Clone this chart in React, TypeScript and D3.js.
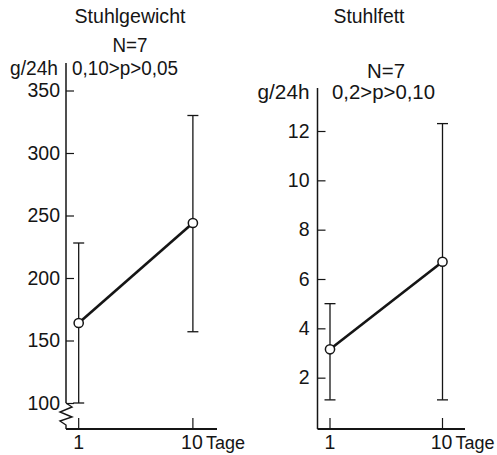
import React, { useEffect, useRef } from "react";
import * as d3 from "d3";

// days of measurement
const days = [1, 10];

// Stuhlgewicht (g/24h): mean and range
const weightMean = [164, 244];
const weightLow = [100, 157];
const weightHigh = [228, 330];
const weightTicks = [100, 150, 200, 250, 300, 350];

// Stuhlfett (g/24h): mean and range
const fatMean = [3.15, 6.7];
const fatLow = [1.1, 1.1];
const fatHigh = [5.0, 12.3];
const fatTicks = [2, 4, 6, 8, 10, 12];

const FONT = "'Liberation Sans', Arial, sans-serif";
const FS = 19.5;
const INK = "#151515";

const App = () => {
  const svgRef = useRef<SVGSVGElement>(null);

  useEffect(() => {
    const svg = d3.select(svgRef.current);
    svg.selectAll("*").remove();
    svg.style("font-family", FONT).style("fill", INK);

    // text squeezed/stretched to the width seen in the scan
    const label = (g: any, x: number, y: number, txt: string, len: number, anchor = "start") =>
      g.append("text").attr("x", x).attr("y", y)
        .attr("text-anchor", anchor).attr("font-size", FS)
        .attr("textLength", len).attr("lengthAdjust", "spacingAndGlyphs")
        .text(txt);

    const drawPanel = (p: any) => {
      const g = svg.append("g");
      const x = d3.scaleLinear().domain(p.xDomain).range(p.xRange);
      const y = d3.scaleLinear().domain(p.yDomain).range(p.yRange);
      const x0 = p.xRange[0];

      // y axis line
      g.append("line")
        .attr("x1", x0).attr("x2", x0)
        .attr("y1", p.axisTop).attr("y2", p.broken ? y(p.yDomain[0]) : p.axisBottom)
        .attr("stroke", INK).attr("stroke-width", 1.5);

      if (p.broken) {
        // axis break zigzag
        const yb = y(p.yDomain[0]);
        const zig = d3.line()([
          [x0, yb], [x0 + 6, yb + 4], [x0 - 6, yb + 9], [x0 + 6, yb + 14],
          [x0 - 6, yb + 18], [x0, yb + 22], [x0, p.axisBottom],
        ] as [number, number][]);
        g.append("path").attr("d", zig).attr("fill", "none")
          .attr("stroke", INK).attr("stroke-width", 1.4);
      }

      // x axis line
      g.append("line")
        .attr("x1", x0).attr("x2", p.xRange[1])
        .attr("y1", p.axisBottom).attr("y2", p.axisBottom)
        .attr("stroke", INK).attr("stroke-width", 1.8);

      // y ticks (pointing inward)
      const yAxis = d3.axisLeft(y).tickValues(p.yTicks).tickSize(-8).tickPadding(p.tickPad);
      const ya = g.append("g").attr("transform", `translate(${x0},0)`).call(yAxis);
      ya.select(".domain").remove();
      ya.selectAll(".tick line").attr("stroke", INK).attr("stroke-width", 1.2);
      ya.selectAll(".tick text")
        .attr("font-size", FS).attr("font-family", FONT).attr("fill", INK);

      // x ticks pointing up, with day labels
      g.selectAll(".xt").data(days).enter().append("line")
        .attr("x1", (d) => x(d)).attr("x2", (d) => x(d))
        .attr("y1", p.axisBottom - 11).attr("y2", p.axisBottom)
        .attr("stroke", INK).attr("stroke-width", 1.2);
      g.selectAll(".xl").data(days).enter().append("text")
        .attr("x", (d) => x(d) - (d > 9 ? 1 : 0)).attr("y", p.axisBottom + 20)
        .attr("text-anchor", "middle").attr("font-size", FS)
        .text((d) => String(d));
      g.append("text").attr("x", x(10) + 13).attr("y", p.axisBottom + 20)
        .attr("font-size", 18).text("Tage");

      // error bars
      days.forEach((d, i) => {
        const cx = x(d);
        g.append("line").attr("x1", cx).attr("x2", cx)
          .attr("y1", y(p.low[i])).attr("y2", y(p.high[i]))
          .attr("stroke", INK).attr("stroke-width", 1.3);
        [p.low[i], p.high[i]].forEach((v) => {
          g.append("line").attr("x1", cx - 5.5).attr("x2", cx + 5.5)
            .attr("y1", y(v)).attr("y2", y(v))
            .attr("stroke", INK).attr("stroke-width", 1.3);
        });
      });

      // mean line
      const line = d3.line<number>().x((d, i) => x(days[i])).y((d) => y(d));
      g.append("path").attr("d", line(p.mean)).attr("fill", "none")
        .attr("stroke", INK).attr("stroke-width", 2.6);

      g.selectAll(".pt").data(p.mean).enter().append("circle")
        .attr("cx", (d, i) => x(days[i])).attr("cy", (d) => y(d))
        .attr("r", 4.6).attr("fill", "#fff")
        .attr("stroke", INK).attr("stroke-width", 1.5);

      // titles
      label(g, p.titleX, 23, p.title, p.titleLen, "middle");
      label(g, p.nX, p.nY, "N=7", p.nLen, "middle");
      label(g, x0 - 8, p.unitY, "g/24h", p.unitLen, "end");
      label(g, p.pX, p.unitY, p.pText, p.pLen);
    };

    drawPanel({
      xDomain: [0, 11.9], xRange: [66, 217],
      yDomain: [100, 350], yRange: [403, 90.5],
      axisTop: 63, axisBottom: 429, broken: true, tickPad: 6,
      yTicks: weightTicks, mean: weightMean, low: weightLow, high: weightHigh,
      title: "Stuhlgewicht", titleX: 130, titleLen: 111,
      nX: 130, nY: 52, nLen: 35,
      unitY: 75, unitLen: 48, pX: 72, pText: "0,10>p>0,05", pLen: 106,
    });

    drawPanel({
      xDomain: [0, 11.8], xRange: [317.5, 465],
      yDomain: [0, 12], yRange: [427, 131],
      axisTop: 88, axisBottom: 429, broken: false, tickPad: 8,
      yTicks: fatTicks, mean: fatMean, low: fatLow, high: fatHigh,
      title: "Stuhlfett", titleX: 369, titleLen: 71,
      nX: 386, nY: 78, nLen: 38,
      unitY: 99, unitLen: 52, pX: 332, pText: "0,2>p>0,10", pLen: 103,
    });
  }, []);

  return (
    <svg
      ref={svgRef}
      width={497}
      height={455}
      style={{ position: "absolute", left: 0, top: 0, background: "#fff" }}
    />
  );
};

export default App;
